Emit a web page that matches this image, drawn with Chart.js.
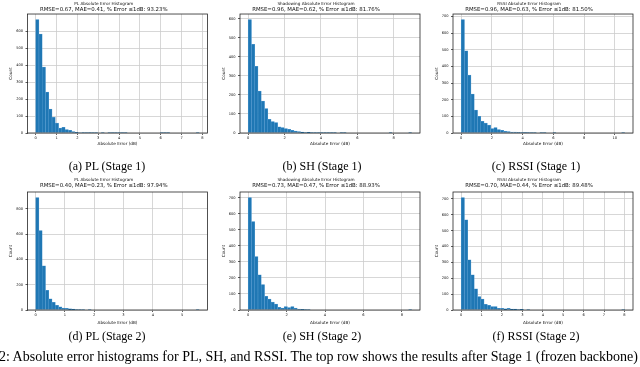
<!DOCTYPE html>
<html><head><meta charset="utf-8">
<script src="https://cdn.jsdelivr.net/npm/chart.js@4.4.1/dist/chart.umd.min.js"></script>
<style>
html,body{margin:0;padding:0;background:#fff;width:640px;height:367px;overflow:hidden;position:relative}
canvas{position:absolute}
.cap{position:absolute;font-family:'Liberation Serif','Times New Roman',serif;font-size:12px;color:#000;white-space:nowrap;transform:translate(-50%,-50%)}
.fig{position:absolute;font-family:'Liberation Serif','Times New Roman',serif;font-size:14px;color:#000;white-space:nowrap;left:-1px;top:349px}
</style></head><body>
<canvas id="pa" width="212" height="152" style="left:0;top:0"></canvas>
<canvas id="pb" width="213" height="152" style="left:212px;top:0"></canvas>
<canvas id="pc" width="215" height="152" style="left:425px;top:0"></canvas>
<canvas id="pd" width="212" height="159" style="left:0;top:170px"></canvas>
<canvas id="pe" width="213" height="159" style="left:212px;top:170px"></canvas>
<canvas id="pf" width="215" height="159" style="left:425px;top:170px"></canvas>
<div class="cap" style="left:107px;top:166px">(a) PL (Stage 1)</div>
<div class="cap" style="left:322px;top:166px">(b) SH (Stage 1)</div>
<div class="cap" style="left:536px;top:166px">(c) RSSI (Stage 1)</div>
<div class="cap" style="left:107px;top:336px">(d) PL (Stage 2)</div>
<div class="cap" style="left:322px;top:336px">(e) SH (Stage 2)</div>
<div class="cap" style="left:536px;top:336px">(f) RSSI (Stage 2)</div>
<div class="fig">2: Absolute error histograms for PL, SH, and RSSI. The top row shows the results after Stage 1 (frozen backbone)</div>
<script>
// ---- data (histogram counts, 50 bins from 0 to max error) ----
const plStage1Counts   = [667,582,388,241,141,92,59,29,33,20,16,8,4,3,2,1,2,1,1,0,1,0,1,1,1,1,1,1,0,0,0,0,0,0,0,0,0,0,1,1,1,0,0,0,0,0,0,0,0,1];
const shStage1Counts   = [595,466,350,220,167,128,72,60,55,33,28,23,19,14,10,7,5,3,4,2,3,1,2,1,1,2,1,0,1,1,0,0,0,0,0,0,0,0,0,0,0,0,0,1,0,0,0,0,0,1];
const rssiStage1Counts = [680,493,348,233,137,100,70,60,48,26,32,20,16,10,8,6,5,3,2,3,2,1,1,0,1,1,0,0,1,0,0,0,0,0,0,0,0,0,0,0,0,0,0,0,0,0,0,0,0,1];
const plStage2Counts   = [889,629,350,155,89,60,37,26,16,13,10,8,3,2,1,0,1,0,0,0,0,0,0,0,0,0,0,0,0,0,0,0,0,0,0,0,0,0,0,0,0,0,0,0,0,0,0,0,0,1];
const shStage2Counts   = [700,551,333,219,159,85,68,50,37,17,12,21,15,21,12,6,4,2,1,0,0,0,0,0,0,0,0,0,0,0,0,0,0,0,0,0,0,0,0,0,0,0,0,0,0,0,0,0,0,1];
const rssiStage2Counts = [708,568,316,222,134,84,69,36,29,21,21,10,10,8,10,6,6,4,5,0,1,0,0,0,0,0,0,0,0,0,0,0,0,0,0,0,0,0,0,0,0,0,0,0,0,0,0,0,0,1];
const maxErrors = [7.85, 9.0, 10.65, 5.59, 8.52, 8.02];
const xTickSteps = [1, 2, 2, 1, 2, 1];
const yTickSteps = [100, 100, 100, 200, 100, 100];
const titles = ['PL Absolute Error Histogram','Shadowing Absolute Error Histogram','RSSI Absolute Error Histogram',
                'PL Absolute Error Histogram','Shadowing Absolute Error Histogram','RSSI Absolute Error Histogram'];
const statLines = ['RMSE=0.67, MAE=0.41, % Error \u22641dB: 93.23%','RMSE=0.96, MAE=0.62, % Error \u22641dB: 81.76%','RMSE=0.96, MAE=0.63, % Error \u22641dB: 81.50%',
                   'RMSE=0.40, MAE=0.23, % Error \u22641dB: 97.94%','RMSE=0.73, MAE=0.47, % Error \u22641dB: 88.93%','RMSE=0.70, MAE=0.44, % Error \u22641dB: 89.48%'];
const xLabel = 'Absolute Error (dB)';
const yLabel = 'Count';

const allCounts = [plStage1Counts, shStage1Counts, rssiStage1Counts, plStage2Counts, shStage2Counts, rssiStage2Counts];
const ids = ['pa','pb','pc','pd','pe','pf'];

const framePlugin = {id:'frame', afterDraw(chart){
  const {ctx, chartArea:a} = chart;
  ctx.save(); ctx.strokeStyle='#262626'; ctx.lineWidth=0.8;
  ctx.strokeRect(a.left, a.top, a.right-a.left, a.bottom-a.top); ctx.restore();
}};

const FONT = "'DejaVu Sans', sans-serif";
const gridCol = '#cdcdcd';

ids.forEach((id, k) => {
  const counts = allCounts[k];
  const maxE = maxErrors[k];
  const w = maxE / counts.length;
  const row = k < 3 ? 0 : 1;
  const col = k % 3;
  const yW = [27.5, 28, 28][col];
  const padR = [4.5, 5, 7][col];
  const peak = Math.max(...counts);
  new Chart(document.getElementById(id), {
    type: 'bar',
    data: { datasets: [{
      data: counts.map((c, i) => ({x: (i + 0.5) * w, y: c})),
      backgroundColor: '#1f77b4', borderColor: '#5b9fd3', borderWidth: 0.5,
      barPercentage: 1, categoryPercentage: 1
    }]},
    options: {
      responsive: false, animation: false, devicePixelRatio: 1,
      layout: {padding: {left: 0, right: padR, top: 0, bottom: 0}},
      plugins: {
        legend: {display: false}, tooltip: {enabled: false},
        title: {display: true, text: titles[k], color: '#111',
          font: {family: FONT, size: 4.2, weight: 'normal', style: 'normal', lineHeight: 1.2},
          padding: row === 0 ? {top: 1, bottom: 0.3} : {top: 7, bottom: 0.3}},
        subtitle: {display: true, text: statLines[k], color: '#111',
          font: {family: FONT, size: 5.4, weight: 'normal', style: 'normal', lineHeight: 1.2},
          padding: row === 0 ? {top: 0.3, bottom: 0.9} : {top: 0.42, bottom: 2.76}}
      },
      scales: {
        x: {type: 'linear', offset: false, min: -0.05 * maxE, max: 1.05 * maxE, z: 1,
          afterFit: s => { s.height = 19; },
          ticks: {stepSize: xTickSteps[k], includeBounds: false, color: '#111', padding: 0.5,
            precision: 0, font: {family: FONT, size: 3.6}, maxRotation: 0, autoSkip: false,
            callback: v => String(Math.round(v))},
          grid: {color: gridCol, lineWidth: 0.8, tickLength: 2, tickColor: '#333', offset: false},
          border: {display: false},
          title: {display: true, text: xLabel, color: '#111', font: {family: FONT, size: 4.2},
            padding: {top: 0, bottom: row === 0 ? 5.2 : 3.8}}},
        y: {min: 0, max: peak * 1.05, z: 1,
          afterFit: s => { s.width = yW; },
          ticks: {stepSize: yTickSteps[k], includeBounds: false, color: '#111', padding: 2.5,
            precision: 0, font: {family: FONT, size: 3.6}, callback: v => String(Math.round(v))},
          grid: {color: gridCol, lineWidth: 0.8, tickLength: 2, tickColor: '#333'},
          border: {display: false},
          title: {display: true, text: yLabel, color: '#111', font: {family: FONT, size: 4.2},
            padding: {top: yW - 16.5 - 2.52, bottom: 0}}}
      }
    },
    plugins: [framePlugin]
  });
});
</script>
</body></html>
